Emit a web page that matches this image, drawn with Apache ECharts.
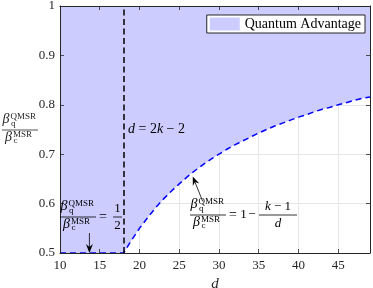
<!DOCTYPE html>
<html><head><meta charset="utf-8">
<script src="https://cdn.jsdelivr.net/npm/echarts@6/dist/echarts.min.js"></script>
<style>html,body{margin:0;padding:0;background:#fff}#c{width:373px;height:288px}</style>
</head><body><div id="c"></div>
<script>
// ---- data ----
const dValues = [10, 18, 19, 20, 21, 22, 23, 24, 25, 26, 27, 28, 29, 30, 31, 32, 33,
  34, 35, 36, 37, 38, 39, 40, 41, 42, 43, 44, 45, 46, 47, 48, 49];
const ratioValues = [0.5, 0.5, 0.526, 0.55, 0.571, 0.591, 0.609, 0.625, 0.64, 0.654, 0.667,
  0.679, 0.69, 0.7, 0.71, 0.719, 0.727, 0.735, 0.743, 0.75, 0.757, 0.763, 0.769, 0.775,
  0.78, 0.786, 0.791, 0.795, 0.8, 0.804, 0.809, 0.813, 0.816];
const xRange = [10, 49];
const xInterval = 5;
const yRange = [0.5, 1];
const yInterval = 0.1;
const thresholdD = 18;
const legendLabel = 'Quantum Advantage';
const arrowHalfPoint = [13.7, 0.5];
const arrowCurvePoint = [26.7, 0.655];

const SERIF = "'Liberation Serif', 'DejaVu Serif', serif";
const AX = '#262626';
const curveData = dValues.map((d, i) => [d, ratioValues[i]]);

const chart = echarts.init(document.getElementById('c'), null, {renderer: 'canvas'});

function baseX(extra) {
  return Object.assign({type: 'value', min: xRange[0], max: xRange[1], interval: xInterval,
    axisLabel: {show: false}, splitLine: {show: false}, axisTick: {show: false},
    axisLine: {show: false}}, extra);
}
function baseY(extra) {
  return Object.assign({type: 'value', min: yRange[0], max: yRange[1], interval: yInterval,
    axisLabel: {show: false}, splitLine: {show: false}, axisTick: {show: false},
    axisLine: {show: false}}, extra);
}
const tickStyle = {show: true, inside: true, length: 4, lineStyle: {color: AX, width: 0.8}};
const lineStyleAx = {show: true, lineStyle: {color: AX, width: 1}};

chart.setOption({
  animation: false,
  backgroundColor: '#fff',
  grid: {left: 60, right: 3, top: 6, bottom: 35, containLabel: false, outerBoundsMode: 'none'},
  legend: {
    right: 8, top: 15, icon: 'rect', itemWidth: 30, itemHeight: 13,
    backgroundColor: '#fff', borderColor: AX, borderWidth: 1, borderRadius: 0,
    padding: [2, 4, 2, 3],
    textStyle: {fontFamily: SERIF, fontSize: 14, color: '#000'},
    itemStyle: {color: '#ccccff', borderWidth: 0},
    data: [legendLabel]
  },
  xAxis: [
    baseX({position: 'bottom', z: 0,
      axisLabel: {show: true, fontFamily: SERIF, fontSize: 13, color: AX, margin: 6, showMaxLabel: false},
      splitLine: {show: true, lineStyle: {color: '#e6e6e6', width: 1}},
      name: 'd', nameLocation: 'middle', nameGap: 24,
      nameTextStyle: {fontFamily: SERIF, fontStyle: 'italic', fontSize: 15, color: AX}}),
    baseX({position: 'bottom', z: 10, axisTick: tickStyle, axisLine: lineStyleAx}),
    baseX({position: 'top', z: 10, axisTick: tickStyle, axisLine: lineStyleAx})
  ],
  yAxis: [
    baseY({position: 'left', z: 0,
      axisLabel: {show: true, fontFamily: SERIF, fontSize: 13, color: AX, margin: 5},
      splitLine: {show: true, lineStyle: {color: '#e6e6e6', width: 1}}}),
    baseY({position: 'left', z: 10, axisTick: tickStyle, axisLine: lineStyleAx}),
    baseY({position: 'right', z: 10, axisTick: tickStyle, axisLine: lineStyleAx})
  ],
  series: [
    {
      name: legendLabel, type: 'line', data: curveData, xAxisIndex: 0, yAxisIndex: 0,
      showSymbol: false, smooth: false, z: 2,
      itemStyle: {color: '#ccccff'},
      lineStyle: {width: 0, opacity: 0},
      areaStyle: {origin: 'end', color: '#ccccff', opacity: 1}
    },
    {
      name: 'boundary', type: 'line', data: curveData, xAxisIndex: 0, yAxisIndex: 0,
      showSymbol: false, z: 4,
      lineStyle: {color: '#0000ff', width: 1.5, type: [6, 4]},
      itemStyle: {color: '#0000ff'},
      markLine: {
        silent: true, symbol: 'none', animation: false,
        label: {show: false},
        lineStyle: {color: '#000', width: 1.5, type: [6, 3.5]},
        data: [{xAxis: thresholdD}]
      }
    }
  ]
});

// ---- annotations ----
function txt(x, y, s, fs, italic, align, color) {
  return {type: 'text', x: x, y: y, z: 100, silent: true,
    style: {text: s, fontSize: fs, fontFamily: SERIF, fontStyle: italic ? 'italic' : 'normal',
      fill: color || '#000', align: align || 'left', verticalAlign: 'middle'}};
}
function seg(x1, y1, x2, y2, w, color) {
  return {type: 'line', z: 100, silent: true, shape: {x1: x1, y1: y1, x2: x2, y2: y2},
    style: {stroke: color || '#000', lineWidth: w || 0.8}};
}
function betaFrac(x0, L, color) {
  return [
    txt(x0 + 0.5, L - 10.5, 'β', 14, true, 'left', color),
    txt(x0 + 8.5, L - 13.5, 'QMSR', 9, false, 'left', color),
    txt(x0 + 9, L - 6.5, 'q', 9, false, 'left', color),
    seg(x0, L, x0 + 36, L, 0.8, color),
    txt(x0 + 3, L + 7, 'β', 14, true, 'left', color),
    txt(x0 + 11, L + 4.5, 'MSR', 9, false, 'left', color),
    txt(x0 + 11.5, L + 11, 'c', 9, false, 'left', color)
  ];
}
function arrow(tip, tail) {
  const dx = tip[0] - tail[0], dy = tip[1] - tail[1];
  const len = Math.sqrt(dx * dx + dy * dy);
  const ux = dx / len, uy = dy / len, px = -uy, py = ux;
  const hl = 9, hw = 3.5, notch = 3;
  return [
    seg(tail[0], tail[1], tip[0] - ux * (hl - notch), tip[1] - uy * (hl - notch), 0.8),
    {type: 'polygon', z: 101, silent: true, shape: {points: [
      [tip[0], tip[1]],
      [tip[0] - ux * hl + px * hw, tip[1] - uy * hl + py * hw],
      [tip[0] - ux * (hl - notch), tip[1] - uy * (hl - notch)],
      [tip[0] - ux * hl - px * hw, tip[1] - uy * hl - py * hw]
    ]}, style: {fill: '#000'}}
  ];
}

const P = (pt) => chart.convertToPixel({xAxisIndex: 0, yAxisIndex: 0}, pt);
const tip1 = P(arrowHalfPoint);
const tip2 = P(arrowCurvePoint);
const elements = [];
// y axis label
elements.push.apply(elements, betaFrac(2, 130, AX));
// half fraction
elements.push.apply(elements, betaFrac(60, 217));
elements.push(txt(103, 217, '=', 14, false, 'center'));
elements.push(txt(117.5, 209, '1', 13, false, 'center'));
elements.push(seg(113, 217, 122, 217, 0.8));
elements.push(txt(117.5, 225.5, '2', 13, false, 'center'));
// curve formula
elements.push.apply(elements, betaFrac(190, 215));
elements.push(txt(233, 215, '=', 14, false, 'center'));
elements.push(txt(243.5, 215, '1', 13, false, 'center'));
elements.push(txt(252, 215, '−', 13, false, 'center'));
elements.push({type: 'text', x: 278, y: 207, z: 100, silent: true,
  style: {text: '{i|k} − 1', align: 'center', verticalAlign: 'middle', fontFamily: SERIF, fontSize: 13, fill: '#000',
    rich: {i: {fontFamily: SERIF, fontSize: 13, fontStyle: 'italic', fill: '#000'}}}});
elements.push(seg(259, 215, 297, 215, 0.8));
elements.push(txt(278, 223.5, 'd', 13, true, 'center'));
// threshold text
elements.push({type: 'text', x: 128, y: 129, z: 100, silent: true,
  style: {text: '{i|d} = 2{i|k} − 2', align: 'left', verticalAlign: 'middle', fontFamily: SERIF, fontSize: 14, fill: '#000',
    rich: {i: {fontFamily: SERIF, fontSize: 14, fontStyle: 'italic', fill: '#000'}}}});
// arrows
elements.push.apply(elements, arrow(tip1, [tip1[0], tip1[1] - 20]));
elements.push.apply(elements, arrow(tip2, [tip2[0] + 10, tip2[1] + 25]));

chart.setOption({graphic: {elements: elements}});
</script></body></html>
